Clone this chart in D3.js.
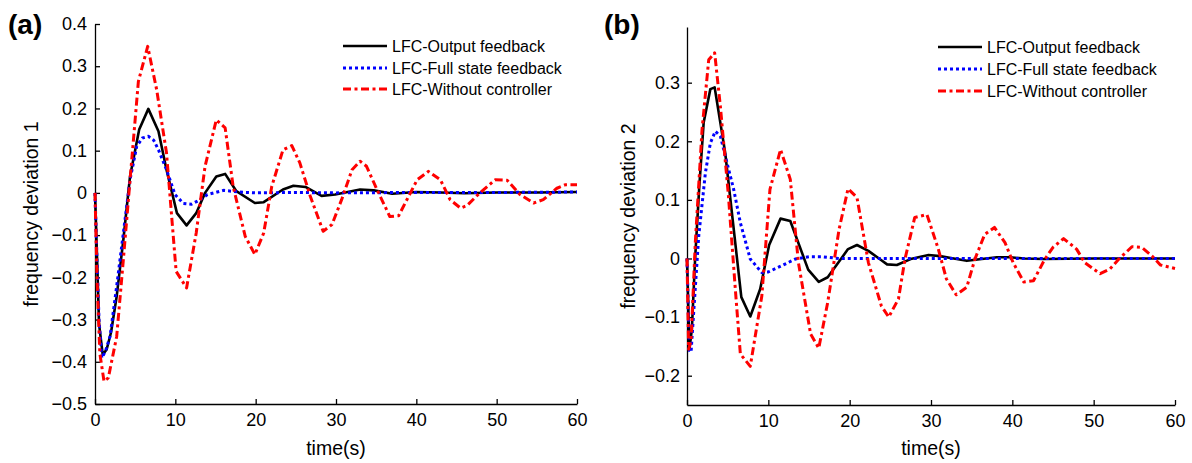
<!DOCTYPE html>
<html>
<head>
<meta charset="utf-8">
<script src="https://cdn.jsdelivr.net/npm/d3@7"></script>
<style>
  body { margin: 0; background: #fff; }
  svg { display: block; font-family: "Liberation Sans", Arial, sans-serif; }
</style>
</head>
<body>
<div id="chartContainer"></div>
<script>
// series names, shared by both panels
const seriesNames = ["LFC-Output feedback", "LFC-Full state feedback", "LFC-Without controller"];

// panel (a): frequency deviation 1
const tA_out = [0, 0.25, 0.5, 0.96, 1.45, 2.0, 2.7, 3.53, 4.36, 5.5, 6.64, 7.9, 8.9, 10.2, 11.4, 12.6, 13.7, 15.1, 16.2, 17.6, 19.9, 21.0, 23.4, 24.7, 26.2, 28.2, 29.9, 33.0, 34.7, 37, 40, 43, 46, 50, 55, 60];
const vA_out = [0, -0.15, -0.31, -0.383, -0.371, -0.33, -0.245, -0.111, 0.039, 0.150, 0.199, 0.146, 0.055, -0.048, -0.077, -0.048, 0.0, 0.039, 0.045, 0.004, -0.024, -0.022, 0.008, 0.017, 0.014, -0.007, -0.004, 0.008, 0.006, -0.002, 0.002, 0.001, -0.001, 0.001, 0.001, 0.002];
const tA_full = [0, 0.25, 0.5, 0.85, 1.3, 1.87, 2.7, 3.53, 4.36, 5.19, 5.9, 6.64, 7.3, 7.9, 8.9, 9.96, 11.0, 12.0, 13.0, 14.0, 16.0, 18.0, 20, 25, 30, 40, 50, 60];
const vA_full = [0, -0.16, -0.3, -0.391, -0.375, -0.34, -0.221, -0.095, 0.031, 0.110, 0.13, 0.134, 0.125, 0.102, 0.055, -0.004, -0.025, -0.027, -0.017, -0.004, 0.006, 0.002, 0, 0.001, 0, 0.001, 0.001, 0.002];
const tA_none = [0, 0.25, 0.6, 1.12, 1.66, 2.7, 3.53, 4.36, 5.4, 6.56, 7.68, 8.9, 10.1, 11.4, 12.6, 13.7, 15.1, 16.2, 17.2, 18.7, 19.9, 21.0, 22.0, 23.4, 24.5, 25.5, 26.8, 28.4, 29.5, 30.7, 32.0, 33.0, 33.8, 35.1, 36.7, 37.8, 40.1, 41.5, 43.0, 44.2, 45.5, 46.3, 47.9, 49.8, 51.3, 52.9, 54.6, 55.8, 57.5, 58.5, 60];
const vA_none = [0, -0.2, -0.38, -0.446, -0.438, -0.34, -0.158, 0.03, 0.264, 0.347, 0.244, 0.095, -0.186, -0.225, -0.095, 0.063, 0.173, 0.154, 0.015, -0.103, -0.146, -0.095, 0.015, 0.102, 0.112, 0.071, -0.008, -0.091, -0.075, -0.016, 0.055, 0.075, 0.063, 0.008, -0.056, -0.054, 0.031, 0.051, 0.031, -0.016, -0.036, -0.03, 0.0, 0.031, 0.03, -0.004, -0.024, -0.016, 0.011, 0.019, 0.019];

// panel (b): frequency deviation 2
const tB_out = [0, 0.3, 0.6, 1.0, 1.5, 2.05, 2.87, 3.4, 4.7, 6.68, 7.78, 9.0, 10.1, 11.5, 12.7, 14.9, 16.2, 17.3, 19.8, 20.9, 22.3, 23.9, 24.6, 25.8, 27.5, 29.7, 31.1, 32.8, 34.4, 38.1, 39.7, 41.5, 43.8, 50, 60];
const vB_out = [0, -0.155, -0.12, 0.0, 0.12, 0.232, 0.289, 0.292, 0.18, -0.066, -0.099, -0.052, 0.023, 0.068, 0.064, -0.019, -0.04, -0.032, 0.016, 0.023, 0.013, -0.003, -0.01, -0.011, -0.001, 0.006, 0.004, 0, -0.004, 0.002, 0.002, 0, -0.001, 0, 0];
const tB_full = [0, 0.29, 0.5, 0.82, 1.44, 2.26, 2.87, 3.48, 4.1, 4.92, 5.74, 6.56, 7.78, 9.2, 10.0, 11.7, 13.3, 15.0, 16.6, 18.7, 25, 30, 40, 50, 60];
const vB_full = [0, -0.157, -0.16, -0.092, 0.038, 0.146, 0.197, 0.217, 0.209, 0.163, 0.118, 0.061, -0.001, -0.024, -0.023, -0.012, -0.001, 0.003, 0.003, 0, 0, 0, 0, 0, 0];
const tB_none = [0, 0.2, 0.5, 1.02, 1.85, 2.67, 3.4, 4.1, 5.1, 5.94, 6.56, 7.78, 9.2, 10.2, 11.5, 12.7, 13.7, 15.2, 16.2, 17.3, 18.7, 19.8, 20.9, 22.3, 23.9, 24.8, 26.0, 26.8, 28.0, 29.5, 30.9, 31.9, 33.1, 34.4, 35.4, 36.6, 37.8, 39.1, 40.1, 41.4, 42.6, 44.0, 45.0, 46.3, 47.9, 48.9, 50.8, 52.0, 53.1, 54.7, 55.9, 57.2, 58.2, 60];
const vB_none = [0, -0.155, -0.14, 0.027, 0.22, 0.339, 0.351, 0.26, 0.106, -0.052, -0.163, -0.184, -0.064, 0.118, 0.186, 0.135, -0.007, -0.129, -0.153, -0.075, 0.05, 0.119, 0.104, -0.007, -0.081, -0.1, -0.069, -0.001, 0.07, 0.075, 0.016, -0.035, -0.062, -0.049, -0.001, 0.041, 0.053, 0.027, -0.007, -0.04, -0.038, -0.001, 0.019, 0.034, 0.016, -0.007, -0.026, -0.018, -0.001, 0.02, 0.019, 0.004, -0.011, -0.017];

// tick labels
const xTicks = [0, 10, 20, 30, 40, 50, 60];
const yTicksA = [-0.5, -0.4, -0.3, -0.2, -0.1, 0, 0.1, 0.2, 0.3, 0.4];
const yTicksB = [-0.2, -0.1, 0, 0.1, 0.2, 0.3];

const styles = [
  { color: "#000000", width: 2.6, dash: null },
  { color: "#0000ff", width: 3, dash: "3,3" },
  { color: "#ff0000", width: 3, dash: "8,3.5,3,3.5" },
];

const width = 1192;
const height = 463;

const svg = d3
  .select("#chartContainer")
  .append("svg")
  .attr("width", width)
  .attr("height", height);

svg.append("rect").attr("width", width).attr("height", height).attr("fill", "#fff");

const fmt = (d) => (d === 0 ? "0" : d3.format(".1f")(d));

function drawPanel(p) {
  const x = d3.scaleLinear().domain([0, 60]).range([p.left, p.right]);
  const y = d3.scaleLinear().domain(p.yDomain).range([p.bottom, p.top]);

  const g = svg.append("g");

  const xAxis = g
    .append("g")
    .attr("transform", `translate(0,${p.bottom})`)
    .call(d3.axisBottom(x).tickValues(xTicks).tickFormat(d3.format("d")).tickSizeInner(-5).tickSizeOuter(0).tickPadding(9));

  const yAxis = g
    .append("g")
    .attr("transform", `translate(${p.left},0)`)
    .call(d3.axisLeft(y).tickValues(p.yTicks).tickFormat(fmt).tickSizeInner(-5).tickSizeOuter(0).tickPadding(p.yPad));

  [xAxis, yAxis].forEach((a) => {
    a.select(".domain").attr("stroke", "#000").attr("stroke-width", 1.3);
    a.selectAll(".tick line").attr("stroke", "#000").attr("stroke-width", 1.3);
    a.selectAll(".tick text")
      .attr("fill", "#000")
      .style("font-size", "18px")
      .style("font-family", '"Liberation Sans", Arial, sans-serif');
  });

  const line = d3
    .line()
    .x((d) => x(d[0]))
    .y((d) => y(d[1]));

  p.series.forEach((s, i) => {
    const pts = s.t.map((t, j) => [t, s.v[j]]);
    g.append("path")
      .datum(pts)
      .attr("fill", "none")
      .attr("stroke", styles[i].color)
      .attr("stroke-width", styles[i].width)
      .attr("stroke-dasharray", styles[i].dash)
      .attr("stroke-linejoin", "round")
      .attr("d", line);
  });

  // axis labels
  g.append("text")
    .attr("x", (p.left + p.right) / 2)
    .attr("y", 455)
    .attr("text-anchor", "middle")
    .style("font-size", "19.5px")
    .text("time(s)");

  g.append("text")
    .attr("transform", `translate(${p.yLabelX},${(p.top + p.bottom) / 2}) rotate(-90)`)
    .attr("text-anchor", "middle")
    .style("font-size", "19.5px")
    .text(p.yLabel);

  // panel letter
  g.append("text")
    .attr("x", p.letterX)
    .attr("y", 34)
    .style("font-size", "28px")
    .style("font-weight", "bold")
    .text(p.letter);

  // legend
  const legend = g.append("g");
  seriesNames.forEach((name, i) => {
    const ly = p.legendY[i];
    legend
      .append("line")
      .attr("x1", p.legendX)
      .attr("x2", p.legendX + 44)
      .attr("y1", ly)
      .attr("y2", ly)
      .attr("stroke", styles[i].color)
      .attr("stroke-width", styles[i].width)
      .attr("stroke-dasharray", styles[i].dash);
    legend
      .append("text")
      .attr("x", p.legendX + 49)
      .attr("y", ly + 6)
      .style("font-size", "16px")
      .text(name);
  });
}

drawPanel({
  left: 95,
  right: 577,
  top: 24,
  bottom: 404,
  yDomain: [-0.5, 0.4],
  yTicks: yTicksA,
  yPad: 8,
  yLabel: "frequency deviation 1",
  yLabelX: 38,
  letter: "(a)",
  letterX: 8,
  legendX: 343,
  legendY: [46, 68, 89],
  series: [
    { t: tA_out, v: vA_out },
    { t: tA_full, v: vA_full },
    { t: tA_none, v: vA_none },
  ],
});

drawPanel({
  left: 687,
  right: 1175,
  top: 27,
  bottom: 405,
  yDomain: [-0.25, 0.395],
  yTicks: yTicksB,
  yPad: 7,
  yLabel: "frequency deviation 2",
  yLabelX: 635,
  letter: "(b)",
  letterX: 604,
  legendX: 938,
  legendY: [47, 69, 91],
  series: [
    { t: tB_out, v: vB_out },
    { t: tB_full, v: vB_full },
    { t: tB_none, v: vB_none },
  ],
});
</script>
</body>
</html>
